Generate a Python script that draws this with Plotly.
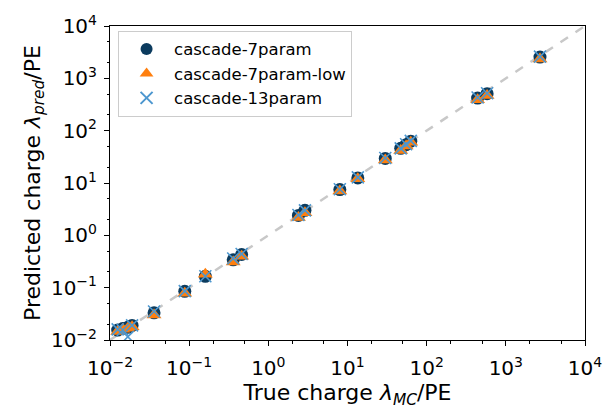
import plotly.graph_objects as go

# True charge per cascade test case (PE)
true_charge = [0.0125, 0.0145, 0.0168, 0.019, 0.036, 0.088, 0.16, 0.36, 0.46,
               2.4, 2.9, 8.0, 13.5, 30, 47, 55, 63, 440, 580, 2700]

# Predicted charge for each fit configuration (PE)
pred_7param = [0.0155, 0.0165, 0.0175, 0.019, 0.033, 0.085, 0.165, 0.34, 0.43,
               2.4, 3.0, 7.5, 12.5, 29.5, 46, 54, 63, 420, 510, 2550]
pred_7param_low = [0.0145, 0.016, 0.0168, 0.018, 0.030, 0.078, 0.18, 0.31, 0.40,
                   2.2, 2.7, 7.0, 12.0, 27.5, 42, 51, 60, 390, 470, 2350]
pred_13param = [0.016, 0.0155, 0.0115, 0.019, 0.035, 0.086, 0.165, 0.36, 0.44,
                2.45, 3.0, 7.6, 12.8, 30, 46, 55, 64, 430, 520, 2600]

diag_range = [1e-2, 1e4]
tick_vals = [1e-2, 1e-1, 1e0, 1e1, 1e2, 1e3, 1e4]
tick_exps = ["\u22122", "\u22121", "0", "1", "2", "3", "4"]
tick_text = ["10<sup>%s</sup>" % e for e in tick_exps]

fig = go.Figure()

# y = x reference line
fig.add_trace(go.Scatter(
    x=diag_range, y=diag_range, mode="lines",
    line=dict(color="#c8c8c8", width=2.5, dash="dash"),
    showlegend=False, hoverinfo="skip"))

fig.add_trace(go.Scatter(
    x=true_charge, y=pred_7param, mode="markers", name="cascade-7param",
    marker=dict(symbol="circle", size=13, color="#0b3b5e", line=dict(width=0))))
fig.add_trace(go.Scatter(
    x=true_charge, y=pred_7param_low, mode="markers", name="cascade-7param-low",
    marker=dict(symbol="triangle-up", size=13, color="#ff7f0e", line=dict(width=0))))
fig.add_trace(go.Scatter(
    x=true_charge, y=pred_13param, mode="markers", name="cascade-13param",
    marker=dict(symbol="x-thin", size=12, color="#4d97cf",
                line=dict(width=1.6, color="#4d97cf"))))

axis_common = dict(
    type="log", range=[-2, 4], tickvals=tick_vals, ticktext=tick_text,
    ticks="outside", ticklen=5, tickwidth=1, tickcolor="black",
    showline=True, linecolor="black", linewidth=1, mirror=True,
    showgrid=False, zeroline=False, ticklabeloverflow="allow",
    tickfont=dict(family="DejaVu Sans", size=20, color="black"),
    minor=dict(ticks="outside", ticklen=2.5, tickcolor="black", showgrid=False),
)

fig.update_layout(
    width=614, height=410,
    margin=dict(l=110, r=18, t=15, b=70),
    paper_bgcolor="white", plot_bgcolor="white",
    font=dict(family="DejaVu Sans", size=20, color="black"),
    xaxis=dict(axis_common, ticklabelstandoff=5,
               title=dict(text="True charge <i>\u03bb</i><sub><i>MC</i></sub>/PE",
                          font=dict(size=22), standoff=2)),
    yaxis=dict(axis_common, ticklabelstandoff=3,
               title=dict(text="Predicted charge <i>\u03bb</i><sub><i>pred</i></sub>/PE",
                          font=dict(size=22), standoff=4)),
    legend=dict(x=0.017, y=0.985, xanchor="left", yanchor="top",
                bgcolor="rgba(255,255,255,0.8)", bordercolor="#cccccc", borderwidth=1,
                font=dict(family="DejaVu Sans", size=16.5), itemsizing="constant",
                itemwidth=45, tracegroupgap=0),
)

fig.write_html("out.html")
